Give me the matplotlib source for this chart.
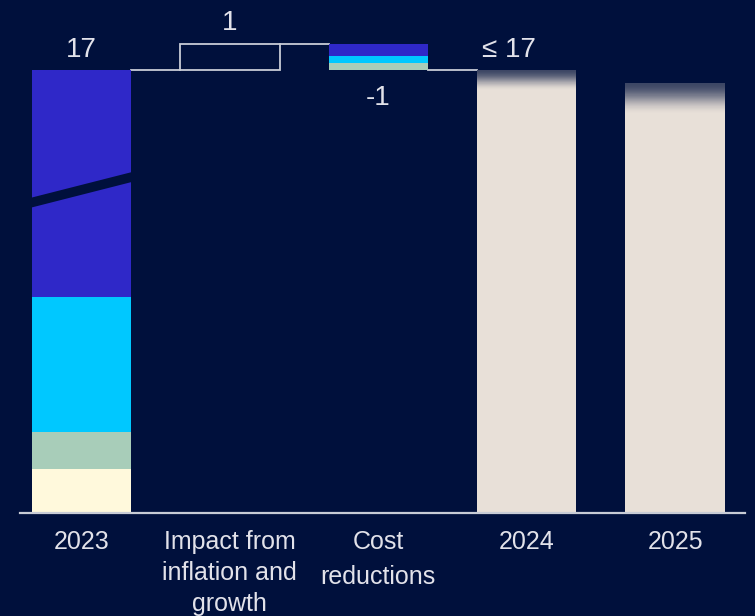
import numpy as np
import matplotlib
matplotlib.use("Agg")
import matplotlib.pyplot as plt
from matplotlib.patches import Polygon
from matplotlib.colors import to_rgb

# ---- data -------------------------------------------------------------
categories = ["2023", "Impact from\ninflation and\ngrowth", "Cost\nreductions", "2024", "2025"]

# 2023 cost base, stacked bottom to top
base_2023 = [1.7, 1.4, 5.2, 8.7]
base_colors = ["#FFF9DC", "#A8CDB9", "#00C8FF", "#2F28C8"]

inflation_growth = 1.0

# cost reductions, stacked top to bottom inside the step
reductions = [0.45, 0.3, 0.25]
reduction_colors = ["#2F28C8", "#00C8FF", "#A8CDB9"]

outlook_2024 = 17.0
outlook_2025 = 16.5

value_labels = ["17", "1", "-1", "\u2264 17"]

# ---- style --------------------------------------------------------------
BG = "#00103C"
TXT = "#E2E2EA"
LINE = "#C8CCD6"
BEIGE = "#E8E0D8"
W = 0.67

plt.rcParams["font.family"] = ["Liberation Sans", "DejaVu Sans"]

fig = plt.figure(figsize=(7.55, 6.16), dpi=100, facecolor=BG)
ax = fig.add_axes([20 / 755, 103 / 616, 725 / 755, 513 / 616])
ax.set_facecolor(BG)

x = np.arange(len(categories))

# 2023 stacked bar
bottom = 0.0
for v, c in zip(base_2023, base_colors):
    ax.bar(x[0], v, bottom=bottom, width=W, color=c, linewidth=0, zorder=2)
    bottom += v
total_2023 = bottom

# axis-break band across the top segment
yl, yr, th = 11.9, 12.9, 0.38
xl, xr = x[0] - W / 2 - 0.01, x[0] + W / 2 + 0.01
ax.add_patch(Polygon([(xl, yl - th / 2), (xr, yr - th / 2), (xr, yr + th / 2), (xl, yl + th / 2)],
                     closed=True, facecolor=BG, edgecolor="none", zorder=3))

# inflation and growth step (outlined)
ax.bar(x[1], inflation_growth, bottom=total_2023, width=W, fill=False,
       edgecolor=LINE, linewidth=1.3, zorder=2)
peak = total_2023 + inflation_growth

# cost reductions step
top = peak
for v, c in zip(reductions, reduction_colors):
    ax.bar(x[2], v, bottom=top - v, width=W, color=c, linewidth=0, zorder=2)
    top -= v
after_cuts = top

# connectors
ax.plot([x[0] + W / 2, x[1] - W / 2], [total_2023, total_2023], color=LINE, lw=1.3, zorder=1)
ax.plot([x[1] + W / 2, x[2] - W / 2], [peak, peak], color=LINE, lw=1.3, zorder=1)
ax.plot([x[2] + W / 2, x[3] - W / 2], [after_cuts, after_cuts], color=LINE, lw=1.3, zorder=1)


def faded_bar(xc, value, fade, n=60):
    """Solid bar whose top part fades into the background."""
    ax.bar(xc, value - fade + 0.05, width=W, color=BEIGE, linewidth=0, zorder=2)
    bg = np.array(to_rgb(BG))
    fg = np.array(to_rgb(BEIGE))
    h = fade / n
    for i in range(n):
        t = (i + 0.5) / n
        s = t * t * (3 - 2 * t)
        mix = 1 - 0.74 * s
        col = tuple(bg * (1 - mix) + fg * mix)
        hh = h * 2.0 if i < n - 1 else h
        ax.bar(xc, hh, bottom=value - fade + i * h, width=W, color=col,
               linewidth=0, zorder=2 + i * 1e-3)


faded_bar(x[3], outlook_2024, 0.8)
faded_bar(x[4], outlook_2025, 1.2)

# value labels
fs_val = 20
ax.annotate(value_labels[0], (x[0], total_2023), xytext=(0, 5), textcoords="offset points",
            ha="center", va="bottom", color=TXT, fontsize=fs_val)
ax.annotate(value_labels[1], (x[1], peak), xytext=(0, 5.5), textcoords="offset points",
            ha="center", va="bottom", color=TXT, fontsize=fs_val)
ax.annotate(value_labels[2], (x[2], after_cuts), xytext=(0, -11), textcoords="offset points",
            ha="center", va="top", color=TXT, fontsize=fs_val)
ax.annotate(value_labels[3], (x[3], outlook_2024), xytext=(-13, 5), textcoords="offset points",
            ha="center", va="bottom", color=TXT, fontsize=fs_val)

# axes
ax.set_xlim(-0.414, 4.471)
ax.set_ylim(0, 513 / 26.06)
ax.set_xticks(x)
ax.set_xticklabels(categories, color=TXT, fontsize=18, linespacing=1.37)
ax.get_xticklabels()[2].set_linespacing(1.6)
ax.tick_params(axis="x", length=0, pad=12)
ax.set_yticks([])
for side in ("left", "right", "top"):
    ax.spines[side].set_visible(False)
ax.spines["bottom"].set_color(LINE)
ax.spines["bottom"].set_linewidth(1.6)
ax.spines["bottom"].set_zorder(4)

fig.savefig("out.png", dpi=100, facecolor=BG)
